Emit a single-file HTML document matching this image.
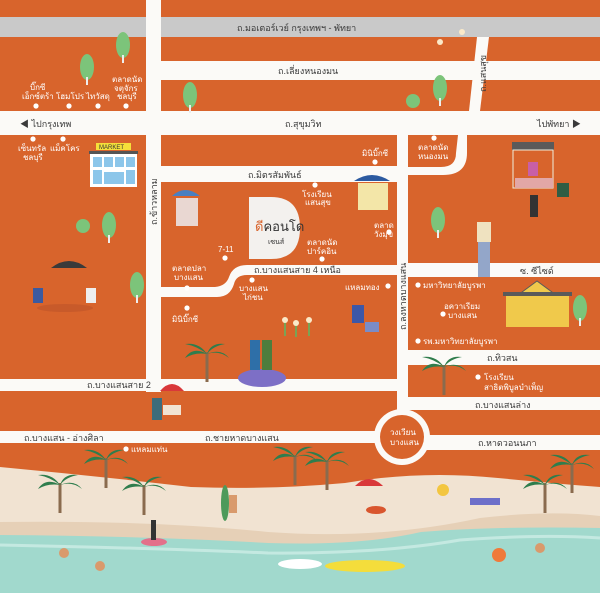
<!DOCTYPE html>
<html><head><meta charset="utf-8"><style>
html,body{margin:0;padding:0;background:#fff;}
svg{display:block;}
text{font-family:"Liberation Sans","Noto Sans CJK SC",sans-serif;}
.w{fill:#fff;font-size:8px;}
.r{fill:#3a3a3a;font-size:9px;}
</style></head><body>
<svg width="600" height="593" viewBox="0 0 600 593" xmlns="http://www.w3.org/2000/svg">
<defs>
<g id="palm"><rect x="-1.5" y="0" width="3" height="30" fill="#8a6b4e"/><path d="M0 2 q-14 -8 -22 4 q10 -6 22 -4 q-8 -12 -22 -10 q12 2 22 10 q4 -12 18 -10 q-12 2 -18 10 q14 -6 22 4 q-10 -8 -22 -4z" fill="#2f7d4d"/></g>
<g id="tree"><ellipse cx="0" cy="0" rx="7" ry="13" fill="#7cc47a"/><rect x="-1" y="10" width="2" height="8" fill="#eee"/></g>
<g id="dot"><circle r="2.6" fill="#fff"/></g>
</defs>
<rect width="600" height="593" fill="#d8642c"/>
<!-- grey motorway -->
<rect x="0" y="17" width="600" height="20" fill="#c9c9c9"/>
<!-- roads -->
<g fill="#fbfaf7">
<rect x="146" y="0" width="15" height="392"/>
<rect x="161" y="61" width="439" height="19"/>
<rect x="0" y="111" width="600" height="24"/>
<polygon points="477,37 489,37 480,111 469,111"/>
<rect x="161" y="166" width="236" height="16"/>
<rect x="397" y="135" width="11" height="300"/>
<path d="M458 135 h9 v18 q0 22 -24 22 h-35 v-8 h33 q15 0 15 -14z"/>
<path d="M397 265 h-150 q-14 0 -18 12 q-3 9 -14 10 h-54 v10 h56 q13 0 17 -13 q2 -9 13 -9 h150z"/>
<rect x="408" y="263" width="192" height="14"/>
<rect x="408" y="350" width="192" height="15"/>
<rect x="408" y="397" width="192" height="13"/>
<rect x="0" y="379" width="397" height="12"/>
<rect x="0" y="431" width="397" height="12"/>
<rect x="408" y="435" width="192" height="15"/>
<circle cx="402" cy="437" r="28"/>
</g>
<circle cx="402" cy="437" r="22" fill="#d8642c"/>
<!-- condo D -->
<path d="M249 197 h22 q29 0 29 31 q0 31 -29 31 h-22z" fill="#f3f1ee"/>
<text x="255" y="231" font-size="13" fill="#333"><tspan fill="#d8642c">ดี</tspan>คอนโด</text>
<text x="268" y="244" font-size="7" fill="#333">เซนส์</text>
<!-- beach -->
<path d="M0 467 Q96 476 191 487 Q268 490 345 483 Q421 470 498 478 Q560 484 600 487 V593 H0z" fill="#f1e3d2"/>
<path d="M0 522 Q150 520 268 532 Q380 540 480 518 Q550 510 600 516 V593 H0z" fill="#e6d0b7"/>
<path d="M0 535 Q150 536 268 543 Q360 546 421 532 Q498 526 600 528 V593 H0z" fill="#a1d9cd"/>
<path d="M0 545 Q150 548 268 553 Q380 554 460 540 Q540 534 600 538" stroke="#c4e9e1" stroke-width="3" fill="none"/>
<!-- labels roads -->
<text class="r" x="237" y="31" font-size="10">ถ.มอเตอร์เวย์ กรุงเทพฯ - พัทยา</text>
<text class="r" x="278" y="74">ถ.เลี่ยงหนองมน</text>
<text class="r" x="285" y="127">ถ.สุขุมวิท</text>
<text class="r" x="20" y="127">◀ ไปกรุงเทพ</text>
<text class="r" x="537" y="127">ไปพัทยา ▶</text>
<text class="r" x="0" y="0" transform="translate(486,92) rotate(-90)" font-size="8">ถ.แสนสุข</text>
<text class="r" x="0" y="0" transform="translate(157,225) rotate(-90)" font-size="8">ถ.ข้าวหลาม</text>
<text class="r" x="0" y="0" transform="translate(406,330) rotate(-90)" font-size="8">ถ.ลงหาดบางแสน</text>
<text class="r" x="248" y="178">ถ.มิตรสัมพันธ์</text>
<text class="r" x="254" y="273">ถ.บางแสนสาย 4 เหนือ</text>
<text class="r" x="520" y="274">ซ. ซีไซด์</text>
<text class="r" x="487" y="361">ถ.ทิวสน</text>
<text class="r" x="475" y="408">ถ.บางแสนล่าง</text>
<text class="r" x="478" y="446">ถ.หาดวอนนภา</text>
<text class="r" x="87" y="388">ถ.บางแสนสาย 2</text>
<text class="r" x="24" y="441">ถ.บางแสน - อ่างศิลา</text>
<text class="r" x="205" y="441">ถ.ชายหาดบางแสน</text>
<text class="w" x="390" y="435" font-size="7.5">วงเวียน</text>
<text class="w" x="390" y="445" font-size="7.5">บางแสน</text>
<!-- white labels -->
<g class="w">
<text x="30" y="90">บิ๊กซี</text><text x="22" y="99">เอ็กซ์ตร้า</text>
<text x="56" y="99">โฮมโปร</text><text x="86" y="99">ไทวัสดุ</text>
<text x="112" y="82">ตลาดนัด</text><text x="114" y="91">จตุจักร</text><text x="117" y="99">ชลบุรี</text>
<text x="18" y="151">เซ็นทรัล</text><text x="23" y="160">ชลบุรี</text><text x="50" y="151">แม็คโคร</text>
<text x="362" y="156">มินิบิ๊กซี</text>
<text x="418" y="150">ตลาดนัด</text><text x="418" y="159">หนองมน</text>
<text x="302" y="197">โรงเรียน</text><text x="305" y="205">แสนสุข</text>
<text x="374" y="228">ตลาด</text><text x="374" y="237">วังมุข</text>
<text x="307" y="245">ตลาดนัด</text><text x="307" y="254">ปาร์คอิน</text>
<text x="218" y="252">7-11</text>
<text x="172" y="271">ตลาดปลา</text><text x="174" y="280">บางแสน</text>
<text x="239" y="291">บางแสน</text><text x="243" y="300">ไก่ชน</text>
<text x="345" y="290">แหลมทอง</text>
<text x="172" y="322">มินิบิ๊กซี</text>
<text x="423" y="288">มหาวิทยาลัยบูรพา</text>
<text x="444" y="309">อควาเรียม</text><text x="448" y="318">บางแสน</text>
<text x="423" y="344">รพ.มหาวิทยาลัยบูรพา</text>
<text x="484" y="380">โรงเรียน</text><text x="484" y="390">สาธิตพิบูลบำเพ็ญ</text>
<text x="131" y="452">แหลมแท่น</text>
</g>
<g>
<use href="#dot" x="36" y="106"/><use href="#dot" x="69" y="106"/><use href="#dot" x="98" y="106"/><use href="#dot" x="126" y="106"/>
<use href="#dot" x="33" y="139"/><use href="#dot" x="63" y="139"/>
<use href="#dot" x="375" y="162"/><use href="#dot" x="434" y="138"/>
<use href="#dot" x="315" y="185"/><use href="#dot" x="389" y="232"/><use href="#dot" x="322" y="259"/>
<use href="#dot" x="225" y="258"/><use href="#dot" x="187" y="288"/><use href="#dot" x="252" y="280"/>
<use href="#dot" x="388" y="286"/><use href="#dot" x="187" y="308"/>
<use href="#dot" x="418" y="285"/><use href="#dot" x="443" y="314"/><use href="#dot" x="418" y="341"/>
<use href="#dot" x="478" y="377"/><use href="#dot" x="126" y="449"/>
</g>
<!-- market building -->
<rect x="90" y="152" width="47" height="35" fill="#fff"/>
<rect x="89" y="151" width="49" height="3" fill="#555"/>
<rect x="96" y="143" width="35" height="7" fill="#f5e03a"/>
<text x="99" y="149" font-size="6" fill="#333">MARKET</text>
<g fill="#8cc6ea"><rect x="93" y="157" width="9" height="10"/><rect x="104" y="157" width="9" height="10"/><rect x="115" y="157" width="9" height="10"/><rect x="126" y="157" width="9" height="10"/><rect x="93" y="170" width="9" height="14"/><rect x="126" y="170" width="9" height="14"/><rect x="104" y="172" width="20" height="12"/></g>
<!-- trees -->
<use href="#tree" x="123" y="45"/><use href="#tree" x="87" y="67"/><use href="#tree" x="190" y="95"/><use href="#tree" x="440" y="88"/>
<use href="#tree" x="109" y="225"/><use href="#tree" x="137" y="285"/><use href="#tree" x="438" y="220"/><use href="#tree" x="580" y="308"/>
<circle cx="413" cy="101" r="7" fill="#7cc47a"/><circle cx="83" cy="226" r="7" fill="#7cc47a"/>
<!-- stalls -->
<path d="M172 196 q13 -12 28 0z" fill="#4a7fc0"/><rect x="176" y="198" width="22" height="28" fill="#e9d7d2"/>
<path d="M354 181 q18 -12 36 0z" fill="#2c5aa0"/><rect x="358" y="183" width="30" height="27" fill="#f3e6a8"/>
<rect x="512" y="142" width="42" height="8" fill="#5a5a5a"/><rect x="513" y="150" width="40" height="38" fill="none" stroke="#eed" stroke-width="1"/>
<rect x="515" y="178" width="38" height="10" fill="#e2a7a7"/><rect x="528" y="162" width="10" height="14" fill="#c85fa6"/>
<rect x="557" y="183" width="12" height="14" fill="#2f5d44"/>
<!-- university -->
<rect x="506" y="295" width="63" height="32" fill="#f0c94b"/>
<polygon points="518,295 537,281 556,295" fill="#f0c94b" stroke="#5a5a5a"/>
<rect x="503" y="292" width="69" height="4" fill="#5a5a5a"/>
<!-- people/figures -->
<rect x="477" y="222" width="14" height="20" fill="#efe2c0"/><rect x="478" y="242" width="12" height="35" fill="#93a6c9"/>
<rect x="530" y="195" width="8" height="22" fill="#333"/>
<rect x="352" y="305" width="12" height="18" fill="#3d57a7"/><rect x="365" y="322" width="14" height="10" fill="#7a8cc7"/>
<ellipse cx="262" cy="378" rx="24" ry="9" fill="#7d6fc6"/><rect x="250" y="340" width="10" height="30" fill="#2e6fa8"/><rect x="262" y="340" width="10" height="30" fill="#4d7d3d"/>
<path d="M160 391 q12 -14 24 0z" fill="#d9383a"/><rect x="152" y="398" width="10" height="22" fill="#3e6c7a"/><rect x="163" y="405" width="18" height="10" fill="#f1e3d2"/>
<path d="M51 268 q18 -14 36 0z" fill="#3a3a3a"/><ellipse cx="65" cy="308" rx="28" ry="4" fill="#c85a2a"/><rect x="33" y="288" width="10" height="15" fill="#3b5aa0"/><rect x="86" y="288" width="10" height="15" fill="#eee"/>
<!-- flowers -->
<g fill="#7aa355"><rect x="284" y="322" width="2" height="14"/><rect x="295" y="325" width="2" height="12"/><rect x="308" y="322" width="2" height="14"/></g>
<g fill="#fbe9c8"><circle cx="285" cy="320" r="3"/><circle cx="296" cy="323" r="3"/><circle cx="309" cy="320" r="3"/><circle cx="440" cy="42" r="3"/><circle cx="462" cy="32" r="3"/></g>
<!-- palms -->
<use href="#palm" x="207" y="352"/><use href="#palm" x="444" y="365"/>
<use href="#palm" x="106" y="458"/><use href="#palm" x="60" y="483"/><use href="#palm" x="144" y="485"/>
<use href="#palm" x="295" y="455"/><use href="#palm" x="327" y="460"/><use href="#palm" x="572" y="463"/><use href="#palm" x="545" y="483"/>
<!-- beach items -->
<path d="M355 486 q14 -14 28 0z" fill="#d9383a"/><ellipse cx="376" cy="510" rx="10" ry="4" fill="#d9562e"/>
<rect x="470" y="498" width="30" height="7" fill="#6d6fc9"/><circle cx="443" cy="490" r="6" fill="#f3c640"/>
<ellipse cx="225" cy="503" rx="4" ry="18" fill="#4d9a5a"/><rect x="229" y="495" width="8" height="18" fill="#d99a6c"/>
<ellipse cx="154" cy="542" rx="13" ry="4" fill="#e3708a"/><rect x="151" y="520" width="5" height="20" fill="#333"/>
<ellipse cx="300" cy="564" rx="22" ry="5" fill="#fff"/><ellipse cx="365" cy="566" rx="40" ry="6" fill="#f4dd3b"/>
<circle cx="499" cy="555" r="7" fill="#f07a3a"/>
<circle cx="64" cy="553" r="5" fill="#d99a6c"/><circle cx="100" cy="566" r="5" fill="#d99a6c"/><circle cx="540" cy="548" r="5" fill="#d99a6c"/>
</svg>
</body></html>
